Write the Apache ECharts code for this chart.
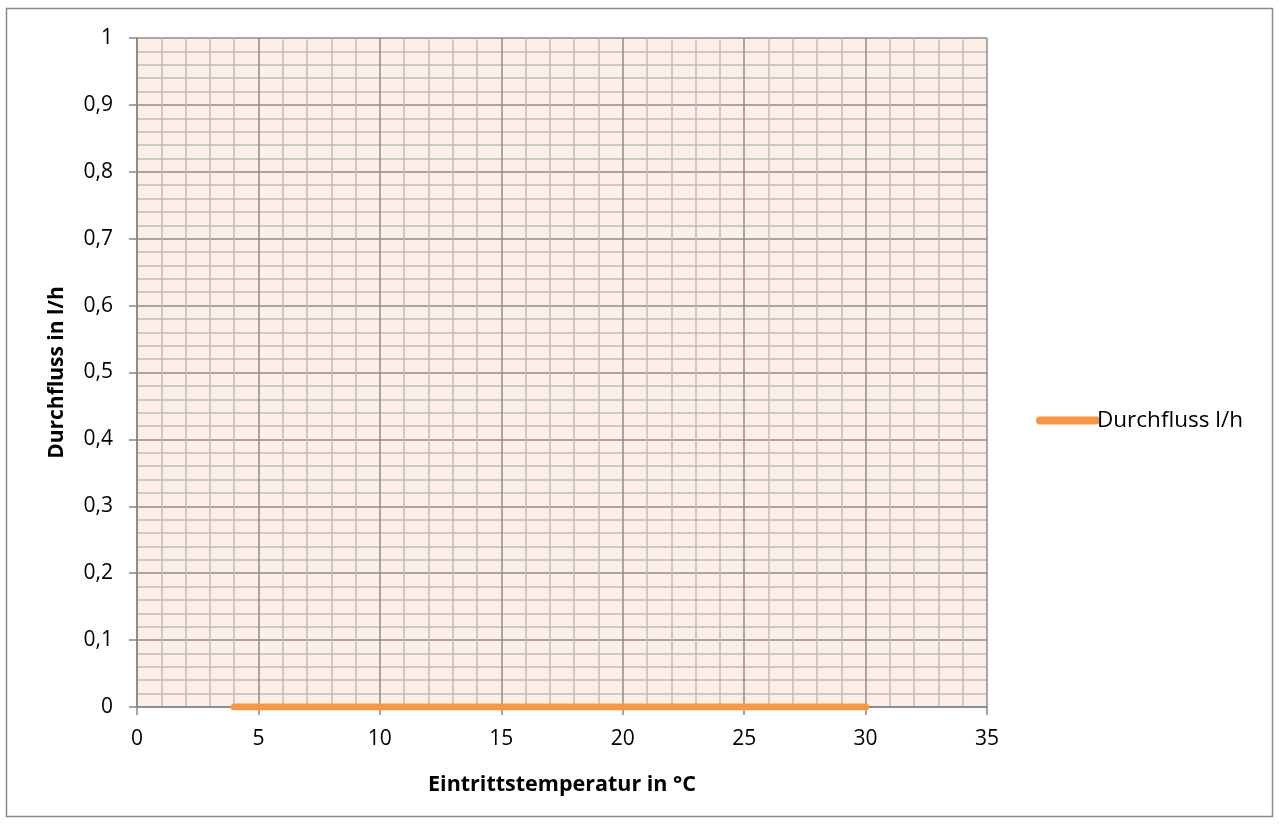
<!DOCTYPE html>
<html><head><meta charset="utf-8">
<script src="https://cdn.jsdelivr.net/npm/echarts@6/dist/echarts.min.js"></script>
<style>html,body{margin:0;padding:0;background:#fff}#c{width:1279px;height:825px}</style>
</head><body><div id="c"></div>
<script>
const seriesName = 'Durchfluss l/h';
const temperatures = [4, 10, 15, 20, 25, 30];
const flow = [0, 0, 0, 0, 0, 0];
const xTitle = 'Eintrittstemperatur in °C';
const yTitle = 'Durchfluss in l/h';

const chart = echarts.init(document.getElementById('c'));
const font = '"Open Sans", Arial, sans-serif';
chart.setOption({
  animation: false,
  backgroundColor: '#fff',
  graphic: [{type:'rect', shape:{x:6.5,y:8.5,width:1266,height:808}, style:{fill:'none', stroke:'#8a8a8a', lineWidth:1.5}, silent:true}],
  grid: {left:137, right:292, top:38, bottom:118, show:true, backgroundColor:'#FDEEE7', borderWidth:0},
  legend: {
    left: 1031, top: 404, orient:'vertical',
    itemWidth: 64, itemHeight: 8, itemGap: 4,
    icon: 'path://M4,0 L60,0 A4,4 0 0 1 60,8 L4,8 A4,4 0 0 1 4,0 Z',
    textStyle:{fontFamily:font, fontSize:22.5, color:'#000', padding:[0,0,0,-8]},
    data:[seriesName]
  },
  xAxis: {
    type:'value', min:0, max:35, interval:5,
    name: xTitle, nameLocation:'middle', nameGap:67,
    nameTextStyle:{fontFamily:font, fontSize:21.5, fontWeight:'bold', color:'#000'},
    axisLine:{show:true, lineStyle:{color:'#868686', width:1.5}},
    axisTick:{show:true, length:8, lineStyle:{color:'#868686', width:1.5}},
    axisLabel:{fontFamily:font, fontSize:21, color:'#000', margin:22},
    splitLine:{show:true, lineStyle:{color:'#8c8c8c', width:1.5}},
    minorTick:{show:false, splitNumber:5},
    minorSplitLine:{show:true, lineStyle:{color:'#bdbdbd', width:1.5}}
  },
  yAxis: {
    type:'value', min:0, max:1, interval:0.1,
    name: yTitle, nameLocation:'middle', nameGap:69,
    nameTextStyle:{fontFamily:font, fontSize:21, fontWeight:'bold', color:'#000'},
    axisLine:{show:true, lineStyle:{color:'#868686', width:1.5}},
    axisTick:{show:true, length:8, lineStyle:{color:'#868686', width:1.5}},
    axisLabel:{fontFamily:font, fontSize:21, color:'#000', margin:24,
      formatter: v => String(Math.round(v*10)/10).replace('.', ',')},
    splitLine:{show:true, lineStyle:{color:'#8c8c8c', width:1.5}},
    minorTick:{show:false, splitNumber:5},
    minorSplitLine:{show:true, lineStyle:{color:'#bdbdbd', width:1.5}}
  },
  series: [{
    name: seriesName, type:'line',
    data: temperatures.map((t,i)=>[t, flow[i]]),
    showSymbol:false, symbol:'none',
    itemStyle:{color:'#F79646'},
    lineStyle:{color:'#F79646', width:7, cap:'round', join:'round'}
  }]
});
</script></body></html>
